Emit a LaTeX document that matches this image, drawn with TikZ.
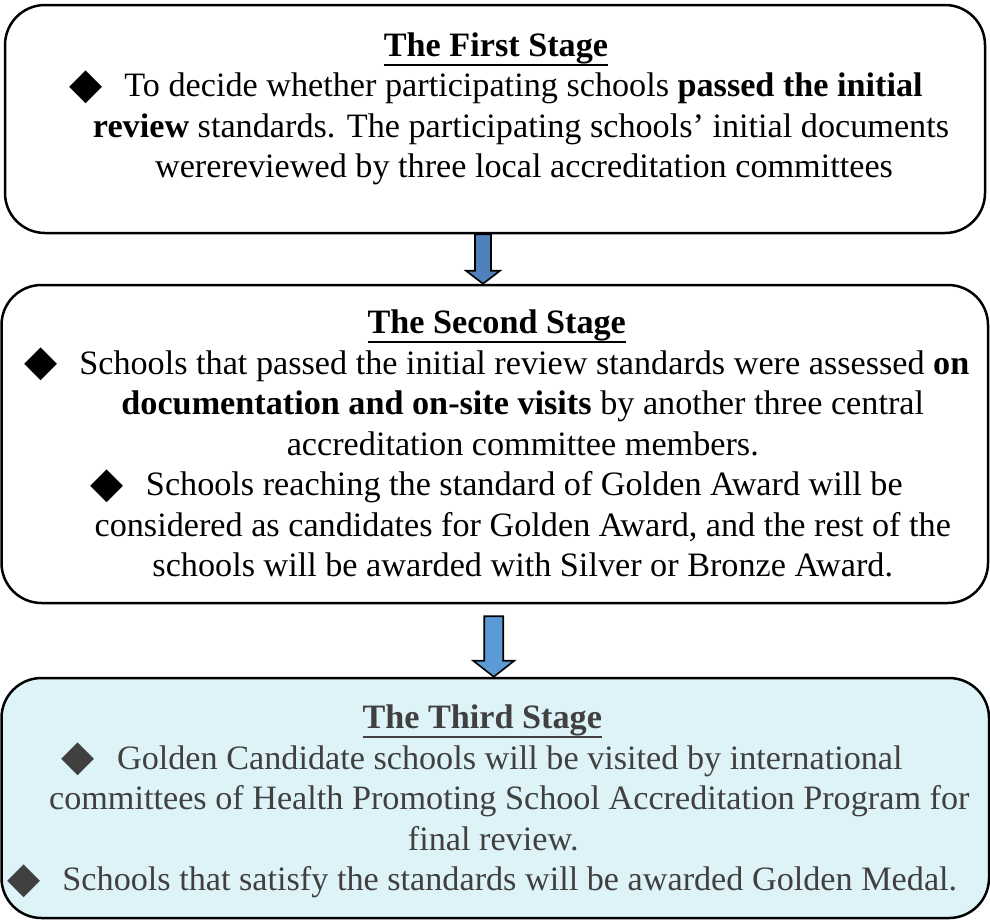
\documentclass[tikz,border=0pt]{standalone}
\usepackage{graphicx}
\usepackage{fontspec}
\setmainfont{Liberation Serif}
\newfontfamily\symfont{DejaVu Sans}
\usetikzlibrary{calc}
\definecolor{arrowA}{HTML}{4F81BD}
\definecolor{arrowB}{HTML}{5B9BD5}
\definecolor{thirdfill}{HTML}{DDF3F8}
\definecolor{thirdtext}{HTML}{404040}
\newcommand{\bul}{{\symfont\raisebox{-1.5pt}{\scalebox{1.26}{◆}}}\hspace{22pt}}
\newcommand{\cont}[1]{\hspace*{#1pt}}
\newcommand{\stagetitle}[1]{\setbox0\hbox{\textbf{#1}}\rlap{\rule[-9.5pt]{\wd0}{2.2pt}}\box0}
\begin{document}
\begin{tikzpicture}[x=1pt,y=-1pt,
	stage/.style={draw, line width=2.5pt, rounded corners=40pt, inner sep=0pt},
	stagetext/.style={align=center, anchor=base, inner sep=0pt, font=\fontsize{34.2}{40.5}\selectfont},
	blockarrow/.style={draw, line width=1.6pt, line join=miter}]
\useasboundingbox (0,0) rectangle (990,921);
% the three stages
\node[stage, minimum width=980pt, minimum height=228pt] (s1) at (495,119) {};
\node[stage, minimum width=986.5pt, minimum height=318pt] (s2) at (494.75,444) {};
\node[stage, fill=thirdfill, minimum width=987.5pt, minimum height=240pt] (s3) at (495.25,798) {};
% text sits on the baseline of its last line
\node[stagetext] (t1) at ($(s1.north)+(1,174)$) {\stagetitle{The First Stage}\\
	\bul To decide whether participating schools \textbf{passed the initial}\\
	\cont{50}\textbf{review} standards. The participating schools’ initial documents\\
	\cont{56}werereviewed by three local accreditation committees};
\node[stagetext] (t2) at ($(s2.north)+(2,293)$) {\stagetitle{The Second Stage}\\
	\bul Schools that passed the initial review standards were assessed \textbf{on}\\
	\cont{52}\textbf{documentation and on-site visits} by another three central\\
	\cont{52}accreditation committee members.\\
	\bul Schools reaching the standard of Golden Award will be\\
	\cont{52}considered as candidates for Golden Award, and the rest of the\\
	\cont{52}schools will be awarded with Silver or Bronze Award.};
\node[stagetext, text=thirdtext] (t3) at ($(s3.north)+(-13,214)$) {\stagetitle{The Third Stage}\\
	\bul Golden Candidate schools will be visited by international\\
	\cont{54}committees of Health Promoting School Accreditation Program for\\
	\cont{22}final review.\\
	\bul Schools that satisfy the standards will be awarded Golden Medal.};
% block arrows between the stages
\foreach \a/\b/\dx/\gap/\sw/\hw/\hl/\col in {s1/s2/-12/0/8/17/13/arrowA, s2/s3/-1/12/9.5/20.5/16/arrowB} {
	\coordinate (top) at ($(\a.south)+(\dx,\gap)$);
	\coordinate (tip) at (top |- \b.north);
	\draw[blockarrow, fill=\col] ($(top)+(-\sw,0)$) -- ($(tip)+(-\sw,-\hl)$) -- ($(tip)+(-\hw,-\hl)$)
		-- (tip) -- ($(tip)+(\hw,-\hl)$) -- ($(tip)+(\sw,-\hl)$) -- ($(top)+(\sw,0)$) -- cycle;
}
\end{tikzpicture}
\end{document}
